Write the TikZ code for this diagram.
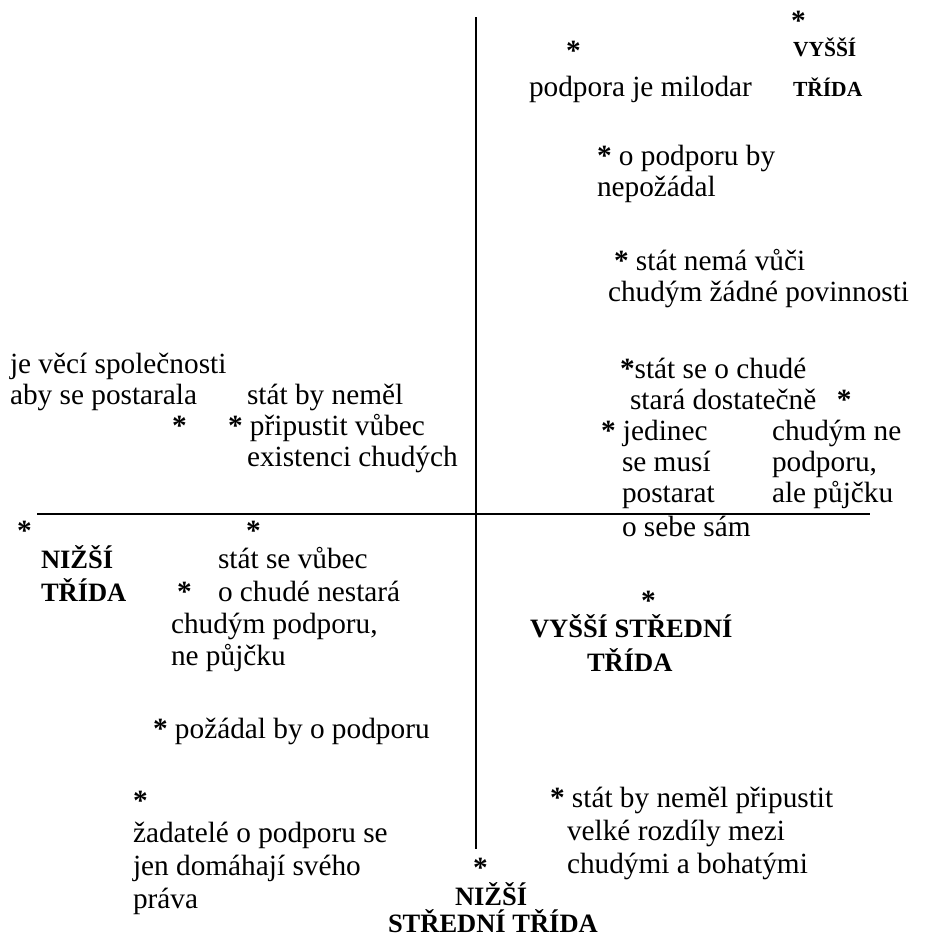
\documentclass[tikz,border=0pt]{standalone}
\usepackage{fontspec}
\setmainfont{Liberation Serif}
\usepackage{tikz}
\usetikzlibrary{calc}
\usetikzlibrary{positioning}

\newcommand{\sstar}{\textbf{*}}

\tikzset{
  txt/.style={anchor=base west,inner sep=0pt,outer sep=0pt,font=\fontsize{29.3}{31}\selectfont},
  cls/.style={txt,font=\fontsize{26.5}{30}\selectfont\bfseries},
  clsr/.style={txt,font=\fontsize{21.5}{26}\selectfont\bfseries},
  axis/.style={line width=1.4pt}
}

\begin{document}
\begin{tikzpicture}[x=1pt,y=-1pt]
\useasboundingbox (0,0) rectangle (924,940);
% axes
\coordinate (ytop) at (476,17);
\coordinate (ybot) at (476,849);
\coordinate (xl) at (37,514);
\coordinate (xr) at (870,514);
\draw[axis] (ytop) -- (ybot);
\draw[axis] (xl) -- (xr);
% upper right
\node[txt] (s1) at (791,30) {\sstar};
\node[txt] (s2) at (566,60) {\sstar};
\node[clsr] (vt1) at (793,56) {VYŠŠÍ};
\node[clsr] (vt2) at (793,96) {TŘÍDA};
\node[txt] (milo) at (529,96) {podpora je milodar};
\node[txt] (nep1) at (597,165) {\sstar{} o podporu by};
\node[txt] (nep2) at (597,196) {nepožádal};
\node[txt] (pov1) at (614,270) {\sstar{} stát nemá vůči};
\node[txt] (pov2) at (608,301) {chudým žádné povinnosti};
\node[txt] (dos1) at (620,378) {\sstar stát se o chudé};
\node[txt] (dos2) at (630,409) {stará dostatečně\hspace{0.7em}\sstar};
\node[txt] (jed1) at (601,440) {\sstar{} jedinec};
\node[txt] (jed2) at (622,471) {se musí};
\node[txt] (jed3) at (622,502) {postarat};
\node[txt] (jed4) at (622,536) {o sebe sám};
\node[txt] (pue1) at (772,440) {chudým ne};
\node[txt] (pue2) at (772,471) {podporu,};
\node[txt] (pue3) at (772,502) {ale půjčku};
% upper left
\node[txt] (spo1) at (10,373) {je věcí společnosti};
\node[txt] (spo2) at (10,404) {aby se postarala};
\node[txt] (s3) at (172,435) {\sstar};
\node[txt] (exi1) at (247,404) {stát by neměl};
\node[txt] (exi2) at (228,435) {\sstar{} připustit vůbec};
\node[txt] (exi3) at (247,466) {existenci chudých};
% lower left
\node[txt] (s4) at (17,540) {\sstar};
\node[txt] (s5) at (246,540) {\sstar};
\node[cls] (nt1) at (41,568) {NIŽŠÍ};
\node[cls] (nt2) at (41,601) {TŘÍDA};
\node[txt] (nes1) at (218,568) {stát se vůbec};
\node[txt] (s6) at (177,601) {\sstar};
\node[txt] (nes2) at (218,601) {o chudé nestará};
\node[txt] (pod1) at (171,633) {chudým podporu,};
\node[txt] (pod2) at (171,665) {ne půjčku};
\node[txt] (poz) at (153,738) {\sstar{} požádal by o podporu};
\node[txt] (s7) at (133,810) {\sstar};
\node[txt] (zad1) at (133,842) {žadatelé o podporu se};
\node[txt] (zad2) at (133,875) {jen domáhají svého};
\node[txt] (zad3) at (133,908) {práva};
% lower right
\node[txt] (s8) at (641,610) {\sstar};
\node[cls] (vst1) at (530,637) {VYŠŠÍ STŘEDNÍ};
\node[cls] (vst2) at (587,671) {TŘÍDA};
\node[txt] (roz1) at (550,807) {\sstar{} stát by neměl připustit};
\node[txt] (roz2) at (567,840) {velké rozdíly mezi};
\node[txt] (roz3) at (567,873) {chudými a bohatými};
\node[txt] (s9) at (473,877) {\sstar};
\node[cls] (nst1) at (455,905) {NIŽŠÍ};
\node[cls] (nst2) at (388,932) {STŘEDNÍ TŘÍDA};
\end{tikzpicture}
\end{document}
